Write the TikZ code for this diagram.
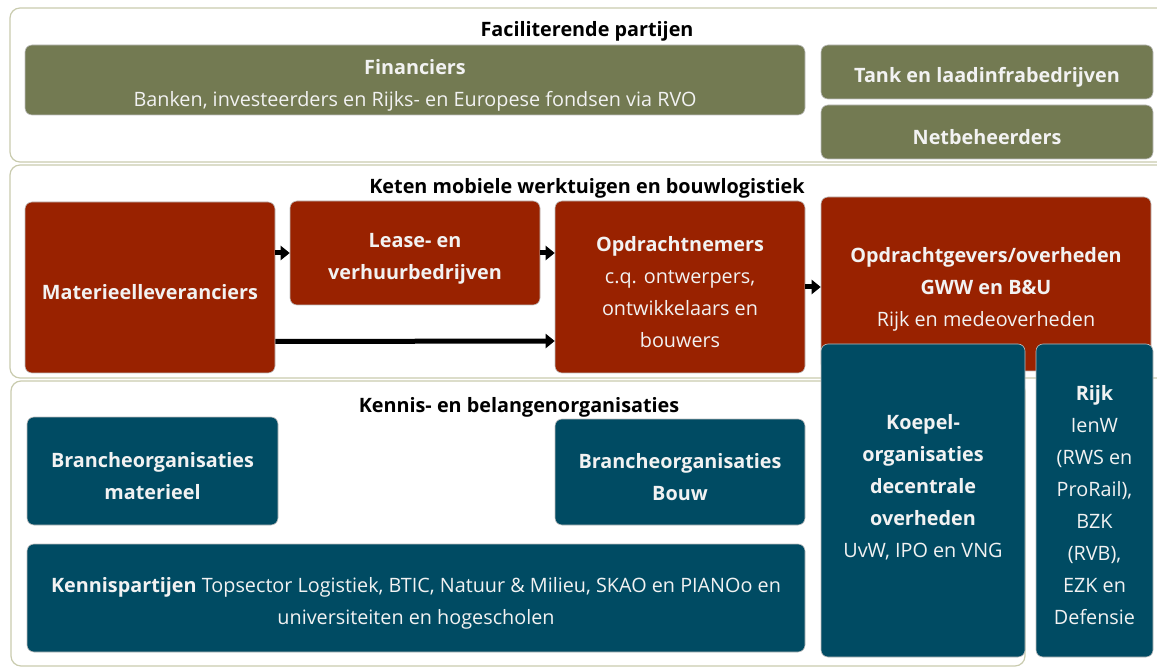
\documentclass[tikz,border=0pt]{standalone}
\usepackage{fontspec}
\setmainfont{Open Sans}
\usetikzlibrary{positioning,arrows.meta}
\definecolor{olijf}{HTML}{737A52}
\definecolor{steen}{HTML}{992200}
\definecolor{petrol}{HTML}{004B63}
\definecolor{rand}{HTML}{C9CBAE}
\newcommand\boxfont{\fontsize{19.8}{32}\selectfont}
\newcommand\hoog{\rule{0pt}{25pt}}
\tikzset{
  panel/.style={draw=rand, line width=1.2pt, rounded corners=10pt},
  blok/.style={rounded corners=7pt, draw=black!25, line width=0.6pt, text=white!95!black, align=center, inner sep=0pt, font=\boxfont},
  groen/.style={blok, fill=olijf},
  rood/.style={blok, fill=steen},
  blauw/.style={blok, fill=petrol},
  kop/.style={font=\boxfont\bfseries, text=black},
  pijl/.style={line width=5pt, -{Triangle[length=9pt,width=14pt]}}
}
\begin{document}
\begin{tikzpicture}[x=1pt,y=-1pt]
  \useasboundingbox (0,0) rectangle (1157,668);
  \clip (0,0) rectangle (1157,668);

  %% panels
  \draw[panel] (10,8) rectangle (1175,162);
  \draw[panel] (10,165) rectangle (1175,378);
  \draw[panel] (11,381) rectangle (1025,666);

  \node[kop] (t1) at (587,31) {Faciliterende partijen};
  \node[kop] (t2) at (587,188) {Keten mobiele werktuigen en bouwlogistiek};
  \node[kop] (t3) at (519,407) {Kennis- en belangenorganisaties};

  %% faciliterende partijen
  \node[groen, minimum width=780, minimum height=70] (fin) at (415,80)
    {\hoog\textbf{Financiers}\\ Banken,\ investeerders en Rijks- en Europese fondsen via RVO};
  \node[groen, minimum width=332, minimum height=54] (tank) at (987,72)
    {\hoog\textbf{Tank en laadinfrabedrijven}};
  \node[groen, minimum width=332, minimum height=54] (net) at (987,132)
    {\hoog\textbf{Netbeheerders}};

  %% keten
  \node[rood, minimum width=250, minimum height=171] (mat) at (150,287.5)
    {\hoog\textbf{Materieelleveranciers}};
  \node[rood, minimum width=250, minimum height=104] (lease) at (415,253)
    {\hoog\textbf{Lease- en}\\ \textbf{verhuurbedrijven}};
  \node[rood, minimum width=250, minimum height=172] (opn) at (680,287)
    {\hoog\textbf{Opdrachtnemers}\\ c.q. ontwerpers,\\ ontwikkelaars en\\ bouwers};
  \node[rood, minimum width=330, minimum height=174] (opg) at (986,284)
    {\hoog\textbf{Opdrachtgevers/overheden}\\ \textbf{GWW en B\&U}\\ Rijk en medeoverheden};

  \draw[pijl] (mat.east |- lease.west) -- (lease.west);
  \draw[pijl] (lease.east) -- (lease.east -| opn.west);
  \draw[pijl] ([yshift=-54pt]mat.east) -- ([yshift=-54pt]opn.west);
  \draw[pijl] (opn.east) -- (opn.east -| opg.west);

  %% overheden
  \node[blauw, minimum width=204, minimum height=313] (koepel) at (923,500.5) {};
  \node[blok, draw=none] (koepeltxt) at (923,487)
    {\textbf{Koepel-}\\ \textbf{organisaties}\\ \textbf{decentrale}\\ \textbf{overheden}\\ UvW, IPO en VNG};
  \node[blauw, minimum width=117, minimum height=313] (rijk) at (1094.5,500.5)
    {\hoog\textbf{Rijk}\\ IenW\\ (RWS en\\ ProRail),\\ BZK\\ (RVB),\\ EZK en\\ Defensie};

  %% kennis en belangen
  \node[blauw, minimum width=251, minimum height=108] (bmat) at (152.5,471)
    {\hoog\textbf{Brancheorganisaties}\\ \textbf{materieel}};
  \node[blauw, minimum width=250, minimum height=106] (bbouw) at (680,472)
    {\hoog\textbf{Brancheorganisaties}\\ \textbf{Bouw}};
  \node[blauw, minimum width=778, minimum height=108] (kennis) at (416,598)
    {\hoog\textbf{Kennispartijen} Topsector Logistiek, BTIC, Natuur \& Milieu, SKAO en PIANOo en\\ universiteiten en hogescholen};
\end{tikzpicture}
\end{document}
